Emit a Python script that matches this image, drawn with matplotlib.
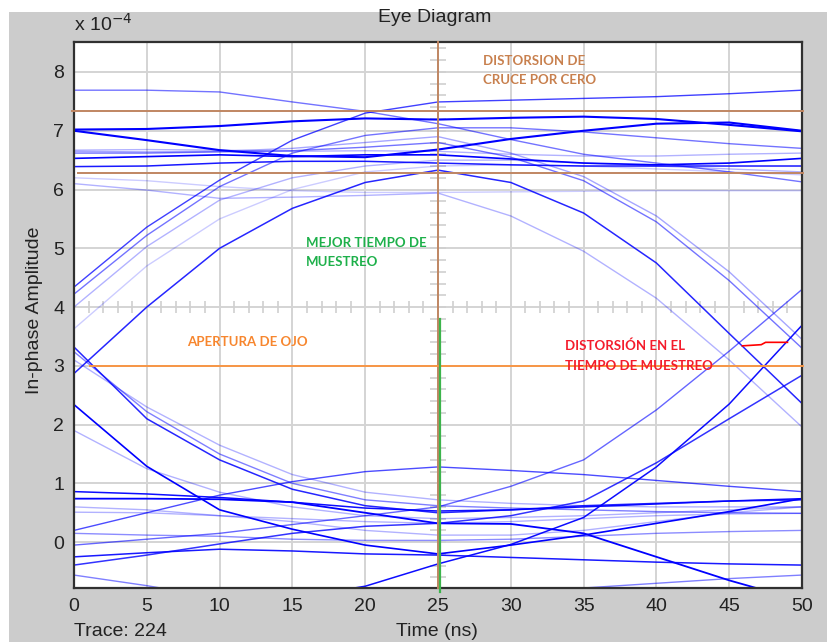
import matplotlib
matplotlib.use("Agg")
import matplotlib.pyplot as plt
import numpy as np
from matplotlib.patches import Rectangle

# ---------------- data (amplitude in units of 1e-4) ----------------
time_ns = [0, 5, 10, 15, 20, 25, 30, 35, 40, 45, 50]
x_ticks = [0, 5, 10, 15, 20, 25, 30, 35, 40, 45, 50]
y_ticks = [0, 1, 2, 3, 4, 5, 6, 7, 8]

# upper level traces
tr_top    = [7.69, 7.69, 7.66, 7.49, 7.33, 7.12, 6.85, 6.60, 6.45, 6.30, 6.13]
tr_rise_a = [4.34, 5.36, 6.16, 6.84, 7.30, 7.49, 7.52, 7.55, 7.58, 7.63, 7.69]
tr_rise_b = [4.22, 5.22, 6.05, 6.62, 6.92, 7.05, 7.05, 6.98, 6.88, 6.78, 6.70]
tr_hi_1   = [7.02, 7.03, 7.08, 7.16, 7.21, 7.19, 7.22, 7.24, 7.20, 7.10, 6.99]
tr_hi_2   = [7.00, 6.84, 6.67, 6.57, 6.55, 6.68, 6.86, 7.00, 7.12, 7.14, 7.00]
tr_hi_3   = [6.53, 6.56, 6.59, 6.56, 6.59, 6.59, 6.52, 6.45, 6.42, 6.45, 6.53]
tr_hi_4   = [6.39, 6.40, 6.45, 6.48, 6.48, 6.45, 6.42, 6.40, 6.40, 6.40, 6.40]
tr_hi_5   = [6.67, 6.68, 6.67, 6.65, 6.66, 6.65, 6.60, 6.57, 6.57, 6.60, 6.62]
tr_arc    = [2.87, 4.00, 5.00, 5.68, 6.12, 6.33, 6.12, 5.60, 4.75, 3.55, 2.36]
tr_fall_a = [6.10, 5.99, 5.85, 5.87, 5.90, 5.94, 5.55, 4.95, 4.15, 3.10, 1.96]
tr_hi_6   = [6.20, 6.15, 6.05, 5.98, 5.95, 5.95, 5.96, 5.97, 5.98, 5.98, 5.98]
tr_fall_b = [6.62, 6.62, 6.64, 6.66, 6.72, 6.80, 6.55, 6.15, 5.45, 4.45, 3.30]
tr_fall_c = [6.65, 6.64, 6.65, 6.70, 6.80, 6.90, 6.62, 6.22, 5.55, 4.60, 3.45]
tr_rise_c = [4.00, 5.03, 5.82, 6.20, 6.40, 6.50, 6.50, 6.45, 6.40, 6.35, 6.30]
tr_rise_d = [3.63, 4.70, 5.50, 6.00, 6.30, 6.40, 6.42, 6.40, 6.35, 6.30, 6.25]

# lower level traces
tr_lo_1   = [0.20, 0.50, 0.80, 1.03, 1.20, 1.28, 1.22, 1.15, 1.05, 0.95, 0.86]
tr_fall_d = [2.34, 1.29, 0.55, 0.22, -0.05, -0.20, -0.05, 0.12, 0.32, 0.52, 0.74]
tr_fall_e = [3.32, 2.10, 1.40, 0.90, 0.62, 0.50, 0.55, 0.62, 0.66, 0.70, 0.72]
tr_fall_f = [3.24, 2.22, 1.50, 1.00, 0.72, 0.62, 0.58, 0.55, 0.52, 0.50, 0.49]
tr_fall_g = [3.10, 2.30, 1.65, 1.15, 0.85, 0.72, 0.66, 0.62, 0.60, 0.60, 0.60]
tr_fall_h = [1.90, 1.25, 0.85, 0.60, 0.45, 0.40, 0.42, 0.45, 0.50, 0.55, 0.60]
tr_lo_2   = [0.86, 0.82, 0.76, 0.68, 0.58, 0.53, 0.55, 0.60, 0.65, 0.70, 0.74]
tr_lo_3   = [0.74, 0.74, 0.73, 0.68, 0.50, 0.32, 0.31, 0.15, -0.25, -0.65, -1.00]
tr_lo_4   = [0.60, 0.55, 0.45, 0.35, 0.20, 0.12, 0.12, 0.20, 0.35, 0.50, 0.60]
tr_lo_5   = [0.51, 0.50, 0.45, 0.40, 0.35, 0.32, 0.35, 0.40, 0.45, 0.48, 0.49]
tr_lo_6   = [0.15, 0.12, 0.10, 0.05, 0.03, 0.03, 0.05, 0.10, 0.15, 0.18, 0.20]
tr_lo_7   = [-0.25, -0.18, -0.12, -0.15, -0.20, -0.22, -0.26, -0.30, -0.34, -0.37, -0.39]
tr_rise_e = [-0.39, -0.22, -0.03, 0.15, 0.27, 0.32, 0.45, 0.70, 1.35, 2.10, 2.84]
tr_lo_8   = [-0.56, -0.74, -0.95, -1.10, -1.15, -1.10, -0.95, -0.78, -0.70, -0.62, -0.56]
tr_rise_f = [-1.50, -1.35, -1.15, -0.95, -0.75, -0.37, -0.04, 0.42, 1.28, 2.35, 3.69]
tr_rise_g = [-0.05, 0.05, 0.15, 0.30, 0.45, 0.60, 0.95, 1.40, 2.25, 3.25, 4.30]

# annotation levels
zc_upper = 7.33
zc_lower = 6.28
eye_open = 3.0
t_sample = 25
trace_count = 224

traces = [
    (tr_hi_6, 0.2, 1.0), (tr_rise_d, 0.2, 1.0), (tr_rise_c, 0.3, 1.0),
    (tr_fall_a, 0.3, 1.0), (tr_hi_5, 0.3, 1.0), (tr_fall_c, 0.35, 1.0),
    (tr_lo_4, 0.3, 1.0), (tr_lo_5, 0.3, 1.0), (tr_fall_g, 0.3, 1.0),
    (tr_fall_h, 0.3, 1.0), (tr_lo_6, 0.45, 1.0), (tr_lo_8, 0.5, 1.0),
    (tr_fall_f, 0.5, 1.0), (tr_top, 0.55, 1.0), (tr_rise_b, 0.55, 1.0),
    (tr_fall_b, 0.55, 1.0), (tr_rise_g, 0.6, 1.0), (tr_lo_1, 0.7, 1.0),
    (tr_rise_a, 0.75, 1.0), (tr_rise_e, 0.8, 1.1), (tr_arc, 0.85, 1.1),
    (tr_fall_e, 0.85, 1.1), (tr_hi_4, 0.9, 1.1), (tr_lo_7, 0.9, 1.1),
    (tr_lo_2, 0.95, 1.1), (tr_rise_f, 0.95, 1.1), (tr_hi_3, 1.0, 1.2),
    (tr_fall_d, 1.0, 1.2), (tr_lo_3, 1.0, 1.3), (tr_hi_1, 1.0, 1.5),
    (tr_hi_2, 1.0, 1.5),
]

# ---------------- figure ----------------
plt.rcParams['font.family'] = ['Liberation Sans', 'DejaVu Sans']
W, H = 827, 642
FS = 14
fig = plt.figure(figsize=(W / 100, H / 100), dpi=100, facecolor='white')
fig.patches.append(Rectangle((9 / W, 0), 1, (H - 12) / H, transform=fig.transFigure,
                             facecolor='#cccccc', edgecolor='none', zorder=-10))

ax = fig.add_axes([74 / W, 1 - 588 / H, (802 - 74) / W, (588 - 42) / H])
ax.set_zorder(1)
ax.set_facecolor('white')
ax.set_xlim(0, 50)
ax.set_ylim(-0.78, 8.51)
ax.set_xticks(x_ticks)
ax.set_yticks(y_ticks)
ax.tick_params(length=0, labelsize=FS, colors='#222222', pad=7)
ax.grid(True, color='#d4d4d4', lw=1.4, zorder=0)
ax.set_axisbelow(True)
for s in ax.spines.values():
    s.set_color('#303030')
    s.set_linewidth(1.6)

# eye centre crosshair with fine ticks
gx = np.arange(1, 50)
gx = gx[gx % 5 != 0]
ax.plot(gx, np.full(gx.shape, 4.0), ls='none', marker='|', ms=9, mew=1.2,
        color='#cfcfcf', zorder=1)
gy = np.arange(-0.6, 8.5, 0.2)
ax.plot(np.full(gy.shape, 25.0), gy, ls='none', marker='_', ms=11, mew=1.2,
        color='#cfcfcf', zorder=1)

for ys, a, lw in traces:
    ax.plot(time_ns, ys, color='#0000ff', alpha=a, lw=lw, zorder=2,
            solid_joinstyle='round')

# annotation lines
brown = '#c08662'
ax.plot([-0.15, 50.1], [zc_upper, zc_upper], color=brown, lw=1.4, clip_on=False, zorder=3)
ax.plot([0.3, 50.1], [zc_lower, zc_lower], color=brown, lw=1.4, clip_on=False, zorder=3)
ax.plot([t_sample, t_sample], [8.51, -0.78], color=brown, lw=1.4, clip_on=False, zorder=3)
ax.plot([t_sample + 0.17, t_sample + 0.17], [3.8, -0.85], color='#3cb44b', lw=1.6,
        clip_on=False, zorder=4)
ax.plot([1.1, 50.1], [eye_open, eye_open], color='#f79646', lw=1.4, clip_on=False, zorder=3)
ax.plot([45.9, 47.2, 47.5, 49.0], [3.34, 3.36, 3.40, 3.40], color='#ff0000', lw=1.2, zorder=4)

# annotation texts
tfont = dict(family=['Lato', 'DejaVu Sans'], fontsize=9.5, fontweight='bold')
ax.text(28.1, 8.19, 'DISTORSION DE', color='#c8804e', va='center', ha='left', **tfont)
ax.text(28.1, 7.87, 'CRUCE POR CERO', color='#c8804e', va='center', ha='left', **tfont)
ax.text(15.9, 5.09, 'MEJOR TIEMPO DE', color='#1db04a', va='center', ha='left', **tfont)
ax.text(15.9, 4.76, 'MUESTREO', color='#1db04a', va='center', ha='left', **tfont)
ax.text(7.8, 3.40, 'APERTURA DE OJO', color='#f7862e', va='center', ha='left', **tfont)
ax.text(33.7, 3.34, 'DISTORSIÓN EN EL', color='#f41c2c', va='center', ha='left', **tfont)
ax.text(33.7, 3.00, 'TIEMPO DE MUESTREO', color='#f41c2c', va='center', ha='left', **tfont)

# labels
fig.text(435 / W, 1 - 18 / H, 'Eye Diagram', ha='center', va='center', fontsize=FS, color='#222222')
fig.text(74 / W, 1 - 24 / H, r'x 10$^{-4}$', ha='left', va='center', fontsize=FS, color='#222222')
fig.text(35 / W, 1 - 310 / H, 'In-phase Amplitude', rotation=90, ha='center', va='center',
         fontsize=FS, color='#222222')
fig.text(437 / W, 1 - 631 / H, 'Time (ns)', ha='center', va='center', fontsize=FS, color='#222222')
fig.text(74 / W, 1 - 631 / H, f'Trace: {trace_count}', ha='left', va='center', fontsize=FS,
         color='#222222')

fig.savefig('out.png', dpi=100, facecolor=fig.get_facecolor())
